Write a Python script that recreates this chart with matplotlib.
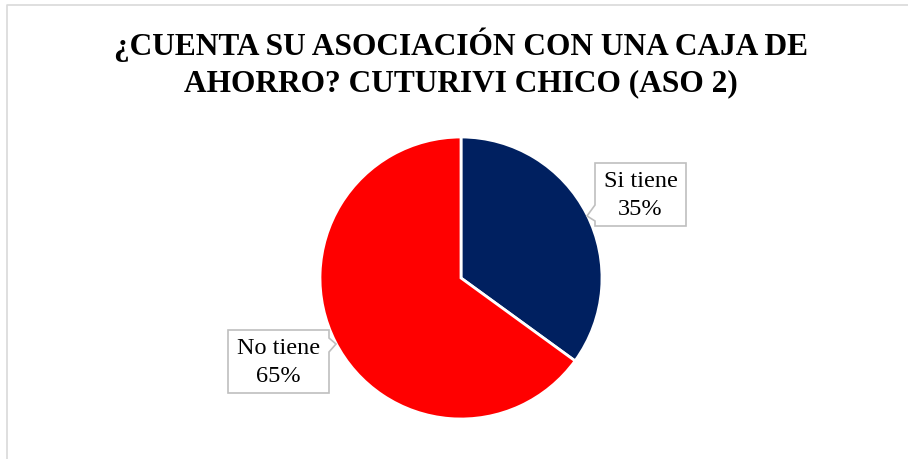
import matplotlib.pyplot as plt
from matplotlib.patches import Polygon

categorias = ['Si tiene', 'No tiene']
porcentajes = [35, 65]
colores = ['#002060', '#FF0000']
titulo = '¿CUENTA SU ASOCIACIÓN CON UNA CAJA DE\nAHORRO? CUTURIVI CHICO (ASO 2)'

W, H = 908, 459
fig = plt.figure(figsize=(W / 100, H / 100), dpi=100)
ax = fig.add_axes([0, 0, 1, 1])

# pixel helper (y measured from top)
def py(y):
    return H - y

cx, cy, r = 461, py(278), 141
ax.pie(porcentajes, colors=colores, startangle=90, counterclock=False,
       center=(cx, cy), radius=r, frame=True,
       wedgeprops=dict(edgecolor='white', linewidth=2))
ax.set_xlim(0, W)
ax.set_ylim(0, H)
ax.set_aspect('equal')
ax.axis('off')

# chart frame (light gray, only left/top visible)
ax.plot([7, 7, W + 5], [py(H + 5), py(5), py(5)], color='#d9d9d9', lw=1.2)

ax.text(461, py(63), titulo, ha='center', va='center', fontsize=22.6,
        fontweight='bold', family='Liberation Serif', linespacing=1.32)

# callout boxes: (left, top, right, bottom) plus notch points
cajas = [
    (595, 163, 686, 226,
     [(595, 163), (686, 163), (686, 226), (595, 226), (595, 221),
      (587, 216), (595, 205)]),
    (228, 330, 329, 393,
     [(228, 330), (329, 330), (329, 338), (336, 344), (329, 352),
      (329, 393), (228, 393)]),
]
for (l, t, rr, b, pts), cat, val in zip(cajas, categorias, porcentajes):
    poly = Polygon([(x, py(y)) for x, y in pts], closed=True,
                   facecolor='white', edgecolor='#bfbfbf', lw=1.2, zorder=5)
    ax.add_patch(poly)
    ax.text((l + rr) / 2, py((t + b) / 2 + 1), f'{cat}\n{val}%', ha='center',
            va='center', fontsize=17.5, family='Liberation Serif',
            linespacing=1.42, zorder=6)

fig.savefig('out.png', dpi=100)
